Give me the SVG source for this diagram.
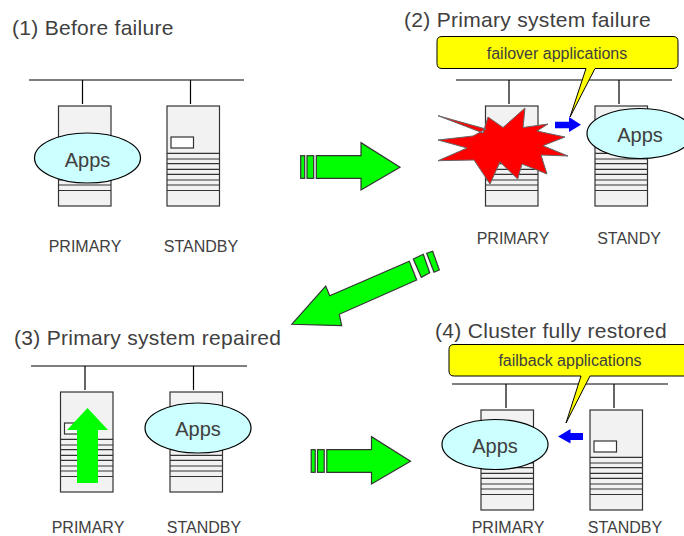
<svg xmlns="http://www.w3.org/2000/svg" xmlns:xlink="http://www.w3.org/1999/xlink" width="684" height="536" viewBox="0 0 684 536">
<style>
text{font-family:"Liberation Sans",Arial,sans-serif;fill:#404040}
.title{font-size:21px;letter-spacing:.3px}
.label{font-size:16px;text-anchor:middle}
.apps{font-size:20px;text-anchor:middle}
.call{font-size:16px;text-anchor:middle}
.wire{stroke:#000;stroke-width:1.2;fill:none}
.ell{fill:#ccffff;stroke:#000;stroke-width:1.2}
.bubble{fill:#ffff00;stroke:#000;stroke-width:1}
.green{fill:#00ff00;stroke:#333;stroke-width:1.2}
.blue{fill:#0000ff}
.up{fill:#00ff00}
.box{fill:#f2f2f2;stroke:#333;stroke-width:1.2}
</style>
<defs>
<g id="server">
<rect class="box" x="0" y="0" width="52.500" height="100"/>
<rect x="4" y="31" width="22.500" height="11" fill="#fff" stroke="#333" stroke-width="1.200"/>
<path d="M0 47.300H52.500M0 53H52.500M0 57.700H52.500M0 63.300H52.500M0 68.300H52.500M0 74H52.500M0 79H52.500M0 84.500H52.500" stroke="#333" stroke-width="1.200" fill="none"/>
</g>
<g id="big"><path class="green" d="M316.300 155.700H361V142.700L400 167.300L361 190V178.300H316.300Z"/><rect class="green" x="300.700" y="155.700" width="4" height="22.600"/><rect class="green" x="307" y="155.700" width="6.700" height="22.600"/></g>
</defs>
<g id="connectors">
<path class="wire" d="M29 80H244M82.500 80V104M190.500 80V104"/>
<path class="wire" d="M456 80H672M509 80V104M619 80V104"/>
<path class="wire" d="M31 366H247M85 366V390M193.500 366V390"/>
<path class="wire" d="M452 384H668M506 384V408M614 384V408"/>
</g>
<g id="panel1">
<text class="title" x="12" y="35">(1) Before failure</text>
<use id="primary1" href="#server" x="58.500" y="106"/>
<use id="standby1" href="#server" x="167" y="106"/>
<g id="apps1"><ellipse class="ell" cx="87.500" cy="158" rx="53" ry="25"/><text class="apps" x="87.500" y="167">Apps</text></g>
<text class="label" x="85" y="252">PRIMARY</text>
<text class="label" x="201" y="252">STANDBY</text>
</g>
<use id="arrow12" href="#big"/>
<g id="panel2">
<text class="title" x="404" y="27">(2) Primary system failure</text>
<use id="primary2" href="#server" x="485.500" y="106"/>
<use id="standby2" href="#server" x="595" y="106"/>
<polygon id="burst" points="438,115.700 486,129 473,136 438,140 467,148 438,160.700 474,160 490,184 500,162 517.700,179 522,164 547,174 541,155 568,156 543,145.700 565,137 537,131 548,124 523,127.500 525,108 503,127.500 488,117 483,133" fill="#ff0000" stroke="#666" stroke-width="1"/>
<g id="apps2"><ellipse class="ell" cx="640" cy="133.500" rx="53" ry="25"/><text class="apps" x="640" y="142">Apps</text></g>
<path class="blue" d="M555 121.700H569V117L581 124.800L569 132V128.300H555Z"/>
<g id="callout2"><path class="bubble" d="M442 36.500H673Q678 36.500 678 41.500V63.500Q678 68.500 673 68.500H595L570 117L586 68.500H442Q437 68.500 437 63.500V41.500Q437 36.500 442 36.500Z"/><text class="call" x="557" y="59">failover applications</text></g>
<text class="label" x="513" y="244">PRIMARY</text>
<text class="label" x="629" y="244">STANDY</text>
</g>
<g id="arrow23">
<polygon class="green" points="291.700,324.300 325.700,286 329.700,295.700 409.300,261.300 416.700,280 339.300,314.300 341.700,325.700"/>
<polygon class="green" points="413.300,259 423.300,254.300 429.700,272.700 421.300,277.300"/>
<polygon class="green" points="426.700,253.300 432.700,251.300 439.300,270 434,272.300"/>
</g>
<g id="panel3">
<text class="title" x="14" y="345">(3) Primary system repaired</text>
<use id="primary3" href="#server" x="60.500" y="392"/>
<use id="standby3" href="#server" x="170" y="392"/>
<polygon class="up" points="87.500,408 108,430 98,430 98,483 77,483 77,430 67,430"/>
<g id="apps3"><ellipse class="ell" cx="198" cy="428" rx="53" ry="25"/><text class="apps" x="198" y="436">Apps</text></g>
<text class="label" x="88" y="533">PRIMARY</text>
<text class="label" x="204" y="533">STANDBY</text>
</g>
<use id="arrow34" href="#big" x="10.500" y="294"/>
<g id="panel4">
<text class="title" x="435" y="338">(4) Cluster fully restored</text>
<use id="primary4" href="#server" x="481" y="410"/>
<use id="standby4" href="#server" x="590" y="410"/>
<g id="apps4"><ellipse class="ell" cx="495" cy="444.500" rx="53" ry="25"/><text class="apps" x="495" y="453">Apps</text></g>
<path class="blue" d="M583 433H570.500V429L558 436.500L570.500 443.500V440H583Z"/>
<g id="callout4"><path class="bubble" d="M454 344.500H690V376H590L566 423L581 376H454Q449 376 449 371V349.500Q449 344.500 454 344.500Z"/><text class="call" x="570" y="366">failback applications</text></g>
<text class="label" x="508" y="533">PRIMARY</text>
<text class="label" x="625" y="533">STANDBY</text>
</g>
</svg>
